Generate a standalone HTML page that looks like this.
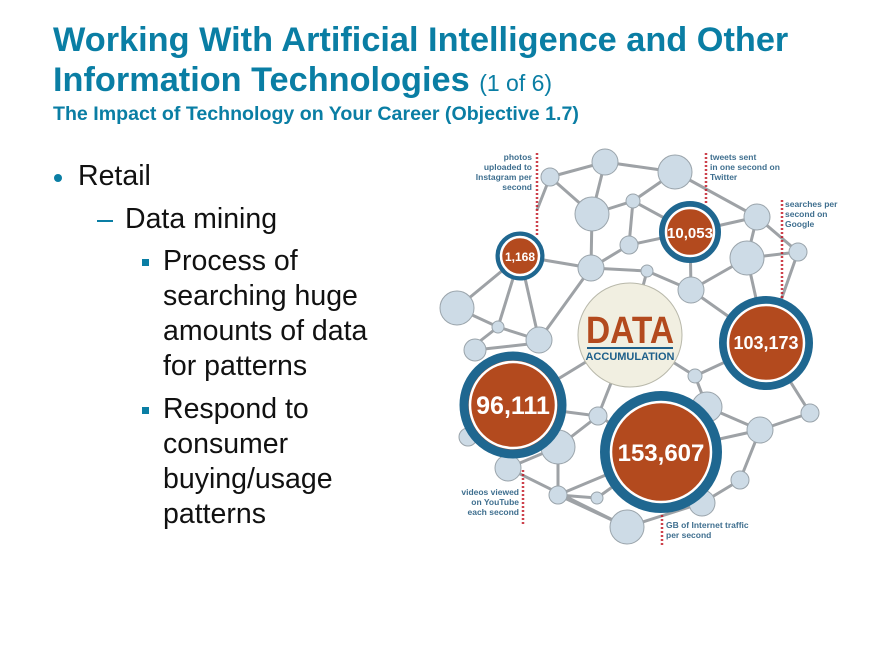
<!DOCTYPE html>
<html><head><meta charset="utf-8"><style>
body{margin:0;width:880px;height:660px;background:#fff;overflow:hidden;position:relative;font-family:"Liberation Sans",sans-serif}
.t{position:absolute;white-space:nowrap}
.h{color:#0a7ea4;font-weight:bold;font-size:34.3px;left:53px}
.b{color:#111;font-size:28.5px;line-height:35px}
</style></head><body>
<div class="t h" style="top:21px">Working With Artificial Intelligence and Other</div>
<div class="t h" style="top:61px">Information Technologies <span style="font-weight:normal;font-size:23px">(1 of 6)</span></div>
<div class="t" style="top:103px;left:53px;color:#0a7ea4;font-weight:bold;font-size:19.6px">The Impact of Technology on Your Career (Objective 1.7)</div>
<div class="t" style="left:54px;width:8px;height:8px;border-radius:50%;background:#0a7ea4;top:174px"></div>
<div class="t b" style="left:78px;top:159px">Retail</div>
<div class="t" style="left:97px;top:220px;width:16px;height:2px;background:#0a7ea4"></div>
<div class="t b" style="left:125px;top:202px">Data mining</div>
<div class="t" style="left:142px;top:259px;width:7px;height:7px;background:#0a7ea4"></div>
<div class="t b" style="left:163px;top:244px">Process of<br>searching huge<br>amounts of data<br>for patterns</div>
<div class="t" style="left:142px;top:407px;width:7px;height:7px;background:#0a7ea4"></div>
<div class="t b" style="left:163px;top:392px">Respond to<br>consumer<br>buying/usage<br>patterns</div>

<svg class="t" style="left:0;top:0" width="880" height="660" viewBox="0 0 880 660" font-family="Liberation Sans,sans-serif">
<g stroke="#9ea2a6" stroke-width="3" fill="none">
<path d="M550,177L605,162L675,172L757,217L798,252L766,343M550,177L592,214L605,162M592,214L633,201L675,172M633,201L629,245L591,268L520,256M629,245L690,232M592,214L591,268M591,268L647,271L691,290L690,232M647,271L630,335M591,268L539,340M520,256L457,308L498,327L539,340M498,327L475,345M520,256L498,327M520,256L539,340M690,232L757,217M757,217L747,258L798,252M747,258L766,343M691,290L747,258M691,290L766,343M633,201L690,232M550,177L537,210"/>
<path d="M475,350L538,343M513,405L598,416L558,447L508,468M598,416L630,335M558,447L558,495L627,527L508,468M558,495L597,498L661,452M558,495L661,452M627,527L702,503L740,480L760,430L810,413L766,343M760,430L707,407L695,376L766,343M695,376L630,335M598,416L661,452M661,452L760,430M468,437L513,405M540,390L630,335M702,503L661,452"/>
</g>
<g stroke="#c1121f" stroke-width="2.5" stroke-dasharray="2,2" fill="none" stroke-opacity=".8">
<path d="M537,153V235M706,153V205M782,200V300M523,470V525M662,515V545"/>
</g>
<g fill="#cddbe6" stroke="#9aa4ab" stroke-width="1">
<circle cx="605" cy="162" r="13"/><circle cx="675" cy="172" r="17"/><circle cx="550" cy="177" r="9"/>
<circle cx="592" cy="214" r="17"/><circle cx="633" cy="201" r="7"/><circle cx="629" cy="245" r="9"/>
<circle cx="591" cy="268" r="13"/><circle cx="647" cy="271" r="6"/><circle cx="691" cy="290" r="13"/>
<circle cx="757" cy="217" r="13"/><circle cx="747" cy="258" r="17"/><circle cx="798" cy="252" r="9"/>
<circle cx="457" cy="308" r="17"/><circle cx="498" cy="327" r="6"/><circle cx="539" cy="340" r="13"/>
<circle cx="475" cy="350" r="11"/><circle cx="695" cy="376" r="7"/><circle cx="707" cy="407" r="15"/>
<circle cx="598" cy="416" r="9"/><circle cx="558" cy="447" r="17"/><circle cx="508" cy="468" r="13"/>
<circle cx="558" cy="495" r="9"/><circle cx="597" cy="498" r="6"/><circle cx="627" cy="527" r="17"/>
<circle cx="702" cy="503" r="13"/><circle cx="760" cy="430" r="13"/><circle cx="810" cy="413" r="9"/>
<circle cx="740" cy="480" r="9"/><circle cx="468" cy="437" r="9"/>
</g>
<circle cx="630" cy="335" r="52" fill="#f1efe1" stroke="#b8b8aa" stroke-width="1"/>
<text x="630" y="343" text-anchor="middle" font-size="38" font-weight="bold" fill="#b34a1e" textLength="88" lengthAdjust="spacingAndGlyphs">DATA</text>
<rect x="587" y="347" width="86" height="2" fill="#1d5f8a"/>
<text x="630" y="360" text-anchor="middle" font-size="11" font-weight="bold" fill="#1d5f8a">ACCUMULATION</text>
<g fill="#b34a1e" stroke="#1f6790">
<circle cx="520" cy="256" r="22" stroke-width="5"/>
<circle cx="690" cy="232" r="28" stroke-width="6"/>
<circle cx="766" cy="343" r="43" stroke-width="8"/>
<circle cx="513" cy="405" r="49" stroke-width="9"/>
<circle cx="661" cy="452" r="56" stroke-width="10"/>
</g>
<g fill="none" stroke="#fff" stroke-width="2.5">
<circle cx="520" cy="256" r="19"/><circle cx="690" cy="232" r="24"/><circle cx="766" cy="343" r="38"/><circle cx="513" cy="405" r="43"/><circle cx="661" cy="452" r="50"/>
</g>
<g fill="#fff" text-anchor="middle" font-weight="bold">
<text x="520" y="261" font-size="12">1,168</text>
<text x="690" y="238" font-size="15">10,053</text>
<text x="766" y="349" font-size="18">103,173</text>
<text x="513" y="414" font-size="25">96,111</text>
<text x="661" y="461" font-size="24">153,607</text>
</g>
<g fill="#3f6f8f" font-size="8.5" font-weight="bold">
<text x="532" y="160" text-anchor="end">photos</text><text x="532" y="170" text-anchor="end">uploaded to</text><text x="532" y="180" text-anchor="end">Instagram per</text><text x="532" y="190" text-anchor="end">second</text>
<text x="710" y="160">tweets sent</text><text x="710" y="170">in one second on</text><text x="710" y="180">Twitter</text>
<text x="785" y="207">searches per</text><text x="785" y="217">second on</text><text x="785" y="227">Google</text>
<text x="519" y="495" text-anchor="end">videos viewed</text><text x="519" y="505" text-anchor="end">on YouTube</text><text x="519" y="515" text-anchor="end">each second</text>
<text x="666" y="528">GB of Internet traffic</text><text x="666" y="538">per second</text>
</g>
</svg>
</body></html>
